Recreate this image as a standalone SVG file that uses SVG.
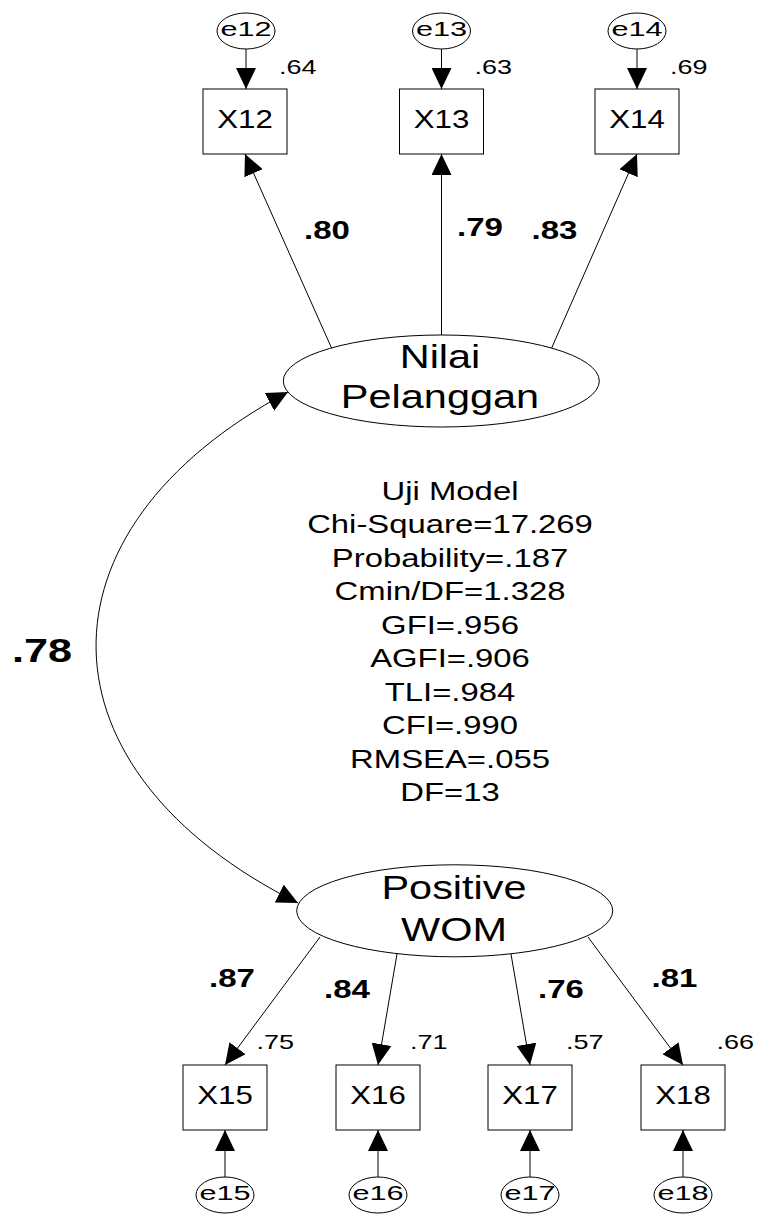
<svg xmlns="http://www.w3.org/2000/svg" width="760" height="1216" viewBox="0 0 760 1216">
<defs>
<style>
text{font-family:"Liberation Sans",Arial,sans-serif;fill:#000}
.lat{font-size:34px;text-anchor:middle}
.obs{font-size:25.6px;text-anchor:middle}
.err{font-size:21px;text-anchor:middle}
.r2{font-size:20px}
.ld{font-size:25.6px;font-weight:bold}
.fit{font-size:26.5px;text-anchor:middle}
.shape{fill:#fff;stroke:#000;stroke-width:1}
.con{fill:none;stroke:#000;stroke-width:1}
</style>
<marker id="ah" viewBox="0 0 21 20" refX="21" refY="10" markerWidth="21" markerHeight="20" markerUnits="userSpaceOnUse" orient="auto-start-reverse">
<path d="M0,0 L21,10 L0,20 Z" fill="#000"/>
</marker>
</defs>
<rect width="760" height="1216" fill="#fff"/>

<g id="connectors">
<line class="con" x1="246" y1="49" x2="246" y2="89" marker-end="url(#ah)"/>
<line class="con" x1="441.5" y1="49" x2="441.5" y2="89" marker-end="url(#ah)"/>
<line class="con" x1="637" y1="49" x2="637" y2="89" marker-end="url(#ah)"/>
<line class="con" x1="331.7" y1="348.3" x2="245" y2="154" marker-end="url(#ah)"/>
<line class="con" x1="441.5" y1="335" x2="441.5" y2="154" marker-end="url(#ah)"/>
<line class="con" x1="551.5" y1="348.3" x2="637" y2="154" marker-end="url(#ah)"/>
<path class="con" d="M288,392 C27.5,531 33.4,770.7 298,903" marker-start="url(#ah)" marker-end="url(#ah)"/>
<line class="con" x1="320" y1="937" x2="225" y2="1065" marker-end="url(#ah)"/>
<line class="con" x1="397" y1="954" x2="378" y2="1065" marker-end="url(#ah)"/>
<line class="con" x1="511" y1="954" x2="530" y2="1065" marker-end="url(#ah)"/>
<line class="con" x1="588" y1="937" x2="683" y2="1065" marker-end="url(#ah)"/>
<line class="con" x1="225" y1="1177" x2="225" y2="1130" marker-end="url(#ah)"/>
<line class="con" x1="378" y1="1177" x2="378" y2="1130" marker-end="url(#ah)"/>
<line class="con" x1="530" y1="1177" x2="530" y2="1130" marker-end="url(#ah)"/>
<line class="con" x1="683" y1="1177" x2="683" y2="1130" marker-end="url(#ah)"/>
</g>

<g id="labels">
<text class="ld" transform="translate(304,239.3) scale(1.29,1)">.80</text>
<text class="ld" transform="translate(457,236) scale(1.29,1)">.79</text>
<text class="ld" transform="translate(531.5,239.3) scale(1.29,1)">.83</text>
<text class="ld" style="font-size:34px" transform="translate(12,662) scale(1.27,1)">.78</text>
<text class="ld" transform="translate(209,986.7) scale(1.29,1)">.87</text>
<text class="ld" transform="translate(324,998.3) scale(1.29,1)">.84</text>
<text class="ld" transform="translate(538,998.3) scale(1.29,1)">.76</text>
<text class="ld" transform="translate(651.5,986.7) scale(1.29,1)">.81</text>
</g>

<g id="e12"><ellipse class="shape" cx="246" cy="31" rx="29" ry="18"/><text class="err" transform="translate(246,35.7) scale(1.46,1)">e12</text></g>
<g id="e13"><ellipse class="shape" cx="441.5" cy="31" rx="29" ry="18"/><text class="err" transform="translate(441.5,35.7) scale(1.46,1)">e13</text></g>
<g id="e14"><ellipse class="shape" cx="637" cy="31" rx="29" ry="18"/><text class="err" transform="translate(637,35.7) scale(1.46,1)">e14</text></g>

<g id="X12"><rect class="shape" x="203" y="89" width="84" height="65"/><text class="obs" transform="translate(245,128.3) scale(1.22,1)">X12</text><text class="r2" transform="translate(279,74) scale(1.35,1)">.64</text></g>
<g id="X13"><rect class="shape" x="399.5" y="89" width="84" height="65"/><text class="obs" transform="translate(441.5,128.3) scale(1.22,1)">X13</text><text class="r2" transform="translate(474.5,74) scale(1.35,1)">.63</text></g>
<g id="X14"><rect class="shape" x="595" y="89" width="84" height="65"/><text class="obs" transform="translate(637,128.3) scale(1.22,1)">X14</text><text class="r2" transform="translate(670,74) scale(1.35,1)">.69</text></g>

<g id="NilaiPelanggan"><ellipse class="shape" cx="441.3" cy="381" rx="158" ry="46"/>
<text class="lat" transform="translate(440,368.3) scale(1.22,1)">Nilai</text>
<text class="lat" transform="translate(440,408.3) scale(1.22,1)">Pelanggan</text></g>

<g id="fit" transform="translate(450,0) scale(1.24,1)">
<text class="fit" x="0" y="500">Uji Model</text>
<text class="fit" x="0" y="533.5">Chi-Square=17.269</text>
<text class="fit" x="0" y="567">Probability=.187</text>
<text class="fit" x="0" y="600.5">Cmin/DF=1.328</text>
<text class="fit" x="0" y="634">GFI=.956</text>
<text class="fit" x="0" y="667.5">AGFI=.906</text>
<text class="fit" x="0" y="701">TLI=.984</text>
<text class="fit" x="0" y="734.5">CFI=.990</text>
<text class="fit" x="0" y="768">RMSEA=.055</text>
<text class="fit" x="0" y="801.5">DF=13</text>
</g>

<g id="PositiveWOM"><ellipse class="shape" cx="454.7" cy="910.8" rx="158" ry="46"/>
<text class="lat" transform="translate(454,899.3) scale(1.22,1)">Positive</text>
<text class="lat" transform="translate(454,940.7) scale(1.22,1)">WOM</text></g>

<g id="X15"><rect class="shape" x="183" y="1065" width="84" height="65"/><text class="obs" transform="translate(225,1104.3) scale(1.22,1)">X15</text><text class="r2" transform="translate(256.5,1049) scale(1.35,1)">.75</text></g>
<g id="X16"><rect class="shape" x="336" y="1065" width="84" height="65"/><text class="obs" transform="translate(378,1104.3) scale(1.22,1)">X16</text><text class="r2" transform="translate(410,1049) scale(1.35,1)">.71</text></g>
<g id="X17"><rect class="shape" x="488" y="1065" width="84" height="65"/><text class="obs" transform="translate(530,1104.3) scale(1.22,1)">X17</text><text class="r2" transform="translate(566,1049) scale(1.35,1)">.57</text></g>
<g id="X18"><rect class="shape" x="641" y="1065" width="84" height="65"/><text class="obs" transform="translate(683,1104.3) scale(1.22,1)">X18</text><text class="r2" transform="translate(716.5,1049) scale(1.35,1)">.66</text></g>

<g id="e15"><ellipse class="shape" cx="225" cy="1195" rx="29" ry="18"/><text class="err" transform="translate(225,1199.7) scale(1.46,1)">e15</text></g>
<g id="e16"><ellipse class="shape" cx="378" cy="1195" rx="29" ry="18"/><text class="err" transform="translate(378,1199.7) scale(1.46,1)">e16</text></g>
<g id="e17"><ellipse class="shape" cx="530" cy="1195" rx="29" ry="18"/><text class="err" transform="translate(530,1199.7) scale(1.46,1)">e17</text></g>
<g id="e18"><ellipse class="shape" cx="683" cy="1195" rx="29" ry="18"/><text class="err" transform="translate(683,1199.7) scale(1.46,1)">e18</text></g>
</svg>
